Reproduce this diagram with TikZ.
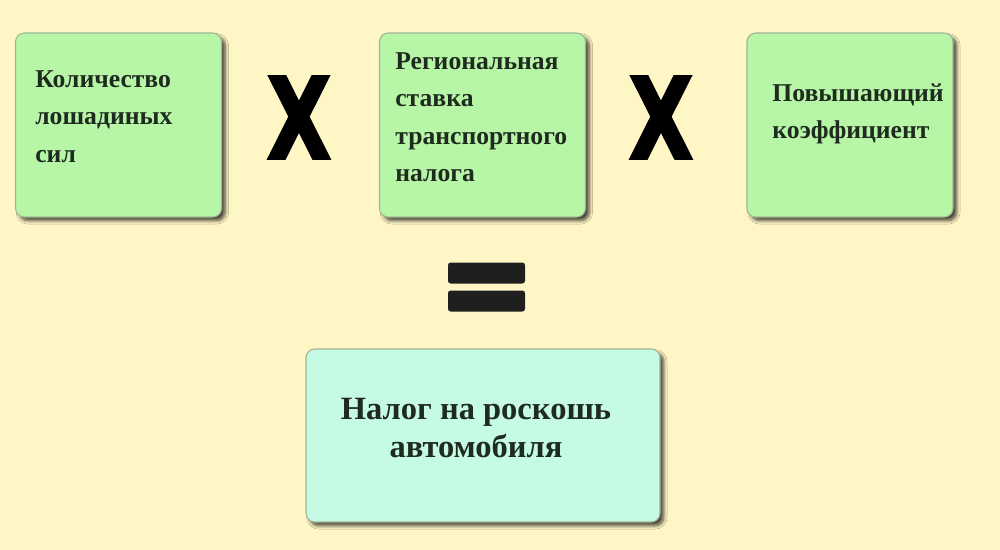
\documentclass[tikz,border=0pt]{standalone}
\usepackage{fontspec}
\setmainfont{Liberation Serif}
\newfontfamily\signfont[BoldFeatures={FakeBold=2.5}]{DejaVu Sans}
\definecolor{bgcream}{HTML}{FFF6C6}
\definecolor{boxgreen}{HTML}{B7F5A7}
\definecolor{boxmint}{HTML}{C5FAE5}
\definecolor{boxedge}{HTML}{A3B594}
\definecolor{inkgreen}{HTML}{1E2B1E}
\usepackage{tikz}
\usetikzlibrary{positioning,shadows.blur}

\begin{document}
\begin{tikzpicture}[
  factor/.style={draw=boxedge, line width=0.6pt, rounded corners=5pt, fill=boxgreen, minimum width=4.12cm, minimum height=3.68cm,
    blur shadow={shadow xshift=2.2pt, shadow yshift=-2.2pt, shadow blur steps=6, shadow opacity=70}},
  result/.style={factor, fill=boxmint, minimum width=7.08cm, minimum height=3.46cm},
  txt/.style={text=inkgreen, font=\bfseries\fontsize{14.6}{21.3}\selectfont, align=left, inner sep=0pt, anchor=north west},
  bigtxt/.style={text=inkgreen, font=\bfseries\fontsize{18.5}{21.8}\selectfont, align=center, inner sep=0pt, anchor=north},
  times/.style={font=\signfont\bfseries\fontsize{64}{64}\selectfont, inner sep=0pt},
  bar/.style={fill=black!88, rounded corners=1.5pt, minimum width=1.54cm, minimum height=0.42cm, inner sep=0pt},
]
  % background and size of the page
  \fill[bgcream] (0,0) rectangle (20,-11);
  \useasboundingbox (0,0) rectangle (20,-11);

  % the three factors
  \node[factor] (hp)   at (2.37,-2.5)  {};
  \node[factor] (rate) at (9.65,-2.5)  {};
  \node[factor] (coef) at (17.0,-2.5)  {};
  \node[txt] (hptxt)   at (0.70,-1.40) {Количество\\лошадиных\\сил};
  \node[txt] (ratetxt) at (7.90,-1.04) {Региональная\\ставка\\транспортного\\налога};
  \node[txt] (coeftxt) at (15.44,-1.66) {Повышающий\\коэффициент};

  % signs
  \node[times] (mul1) at (5.98,-2.35) {\scalebox{0.74}[1]{X}};
  \node[times] (mul2) at (13.22,-2.35) {\scalebox{0.74}[1]{X}};
  \node[bar] (eqtop) at (9.73,-5.46) {};
  \node[bar] (eqbot) at (9.73,-6.02) {};

  % result
  \node[result] (tax) at (9.66,-8.71) {};
  \node[bigtxt] (taxtxt) at (9.52,-7.96) {Налог на роскошь\\автомобиля};
\end{tikzpicture}
\end{document}
